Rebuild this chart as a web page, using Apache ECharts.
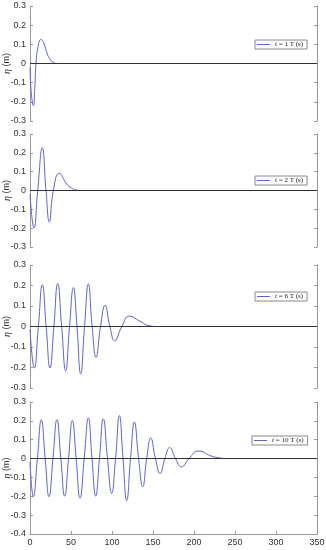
<!DOCTYPE html>
<html lang="en">
<head>
<meta charset="utf-8">
<title>eta</title>
<script src="https://cdn.jsdelivr.net/npm/echarts@6/dist/echarts.min.js"></script>
<style>
html, body { margin: 0; padding: 0; background: #fff; }
#main { width: 326px; height: 550px; }
</style>
</head>
<body>
<div id="main"></div>
<script>
// legend names
var names = ['t = 1 T (s)', 't = 2 T (s)', 't = 6 T (s)', 't = 10 T (s)'];

// t = 1 T
var x1 = [0, 1.5, 4.1, 5.8, 7.3, 9.5, 13.4, 16.5, 20, 24, 28, 33, 350];
var y1 = [-0.02, -0.15, -0.22, -0.13, 0, 0.08, 0.125, 0.11, 0.063, 0.025, 0.008, 0, 0];

// t = 2 T
var x2 = [0, 4.9, 9.4, 15, 19.5, 23.6, 28.5, 35.8, 44.7, 50.8, 56, 62, 350];
var y2 = [-0.02, -0.2, 0, 0.228, 0, -0.167, 0, 0.091, 0.035, 0.012, 0.003, 0, 0];

// t = 6 T
var x3 = [0, 5.3, 10.2, 15, 19.7, 24.4, 29.1, 33.8, 38.6, 43.5, 48.2, 52.9, 57.3, 61.8,
          66.5, 71.2, 75.8, 80.5, 86, 91.5, 97.4, 103.3, 112, 121.2, 134, 146, 155, 350];
var y3 = [-0.015, -0.203, 0, 0.203, 0, -0.203, 0, 0.21, 0, -0.216, 0, 0.19, 0, -0.231,
          0, 0.207, 0, -0.151, 0, 0.103, 0, -0.069, 0, 0.051, 0.026, 0.003, 0, 0];

// t = 10 T
var x4 = [0, 4.1, 9, 13.8, 18.5, 23.2, 28, 32.9, 37.6, 42.3, 47, 51.6, 56.3, 61, 66.1,
          71.2, 75.6, 80.1, 84.7, 89.4, 94.5, 99.6, 104.3, 109, 113.4, 117.9, 122.6,
          127.3, 132.4, 137.5, 142.3, 147.2, 153, 158.6, 164.5, 170.3, 177.5, 184.6,
          194, 205, 222, 232, 240, 350];
var y4 = [-0.018, -0.202, 0, 0.206, 0, -0.202, 0, 0.206, 0, -0.199, 0, 0.202, 0, -0.211, 0,
          0.216, 0, -0.199, 0, 0.211, 0, -0.185, 0, 0.228, 0, -0.223, 0,
          0.193, 0, -0.149, 0, 0.109, 0, -0.079, 0, 0.058, 0, -0.044,
          0, 0.04, 0.012, 0.003, 0, 0];

var xs = [x1, x2, x3, x4];
var ys = [y1, y2, y3, y4];
var yMins = [-0.3, -0.3, -0.3, -0.4];

var panels = [
    { top: 6, height: 115, legendTop: 40, legendLeft: 255 },
    { top: 134, height: 113, legendTop: 176, legendLeft: 255 },
    { top: 265, height: 123, legendTop: 292, legendLeft: 255 },
    { top: 402, height: 132, legendTop: 436, legendLeft: 252 }
];

var blue = '#5f5fd8';
var labelFont = 'Liberation Sans';

var grid = [], xAxis = [], yAxis = [], series = [], legend = [];

panels.forEach(function (p, i) {
    var last = i === 3;
    grid.push({ left: 30, right: 9, top: p.top, height: p.height, outerBoundsMode: 'none', containLabel: false });

    xAxis.push({
        type: 'value', gridIndex: i, min: 0, max: 350, interval: 50,
        axisLine: { show: last, onZero: false, lineStyle: { color: '#999' } },
        axisTick: { show: last, inside: true, length: 3, lineStyle: { color: '#999' } },
        axisLabel: { show: last, fontSize: 9, color: '#333', fontFamily: labelFont, margin: 4 },
        splitLine: { show: false }
    });

    yAxis.push({
        type: 'value', gridIndex: i, min: yMins[i], max: 0.3, interval: 0.1,
        name: '{e|η} (m)', nameLocation: 'middle', nameGap: 18, nameMoveOverlap: false,
        nameTextStyle: {
            fontSize: 9, color: '#333', fontFamily: labelFont,
            rich: { e: { fontSize: 10, fontStyle: 'italic', fontFamily: 'Liberation Serif', color: '#333' } }
        },
        axisLine: { show: true, lineStyle: { color: '#999' } },
        axisTick: { inside: true, length: 3, lineStyle: { color: '#999' } },
        axisLabel: {
            fontSize: 9, color: '#333', fontFamily: labelFont, margin: 4,
            formatter: function (v) { return Math.abs(v) < 1e-9 ? '0' : v.toFixed(1); }
        },
        splitLine: { show: false }
    });
    yAxis.push({
        type: 'value', gridIndex: i, min: yMins[i], max: 0.3, interval: 0.1, position: 'right',
        axisLine: { show: true, lineStyle: { color: '#999' } },
        axisTick: { inside: true, length: 3, lineStyle: { color: '#999' } },
        axisLabel: { show: false },
        splitLine: { show: false }
    });

    var data = xs[i].map(function (x, k) { return [x, ys[i][k]]; });
    series.push({
        name: names[i], type: 'line', xAxisIndex: i, yAxisIndex: i * 2,
        data: data, showSymbol: false, smooth: true, color: blue,
        lineStyle: { color: blue, width: 1 }, itemStyle: { color: blue },
        markLine: {
            silent: true, symbol: ['none', 'none'], label: { show: false },
            lineStyle: { color: '#333', width: 1, type: 'solid' },
            data: [{ yAxis: 0 }]
        }
    });

    legend.push({
        data: [names[i]], left: p.legendLeft, top: p.legendTop,
        icon: 'rect', itemWidth: 13, itemHeight: 1, itemGap: 4,
        itemStyle: { color: blue, borderWidth: 0 },
        backgroundColor: '#fff', borderColor: '#888', borderWidth: 1, borderRadius: 0,
        padding: [1, 4, 1, 2],
        textStyle: {
            fontSize: 7, color: '#222', fontFamily: 'Liberation Serif',
            rich: { i: { fontSize: 7, fontStyle: 'italic', fontFamily: 'Liberation Serif', color: '#222' } }
        },
        formatter: function (n) { return '{i|t}' + n.slice(1); }
    });
});

var myChart = echarts.init(document.getElementById('main'));
myChart.setOption({
    animation: false,
    grid: grid,
    xAxis: xAxis,
    yAxis: yAxis,
    legend: legend,
    series: series
});
</script>
</body>
</html>
